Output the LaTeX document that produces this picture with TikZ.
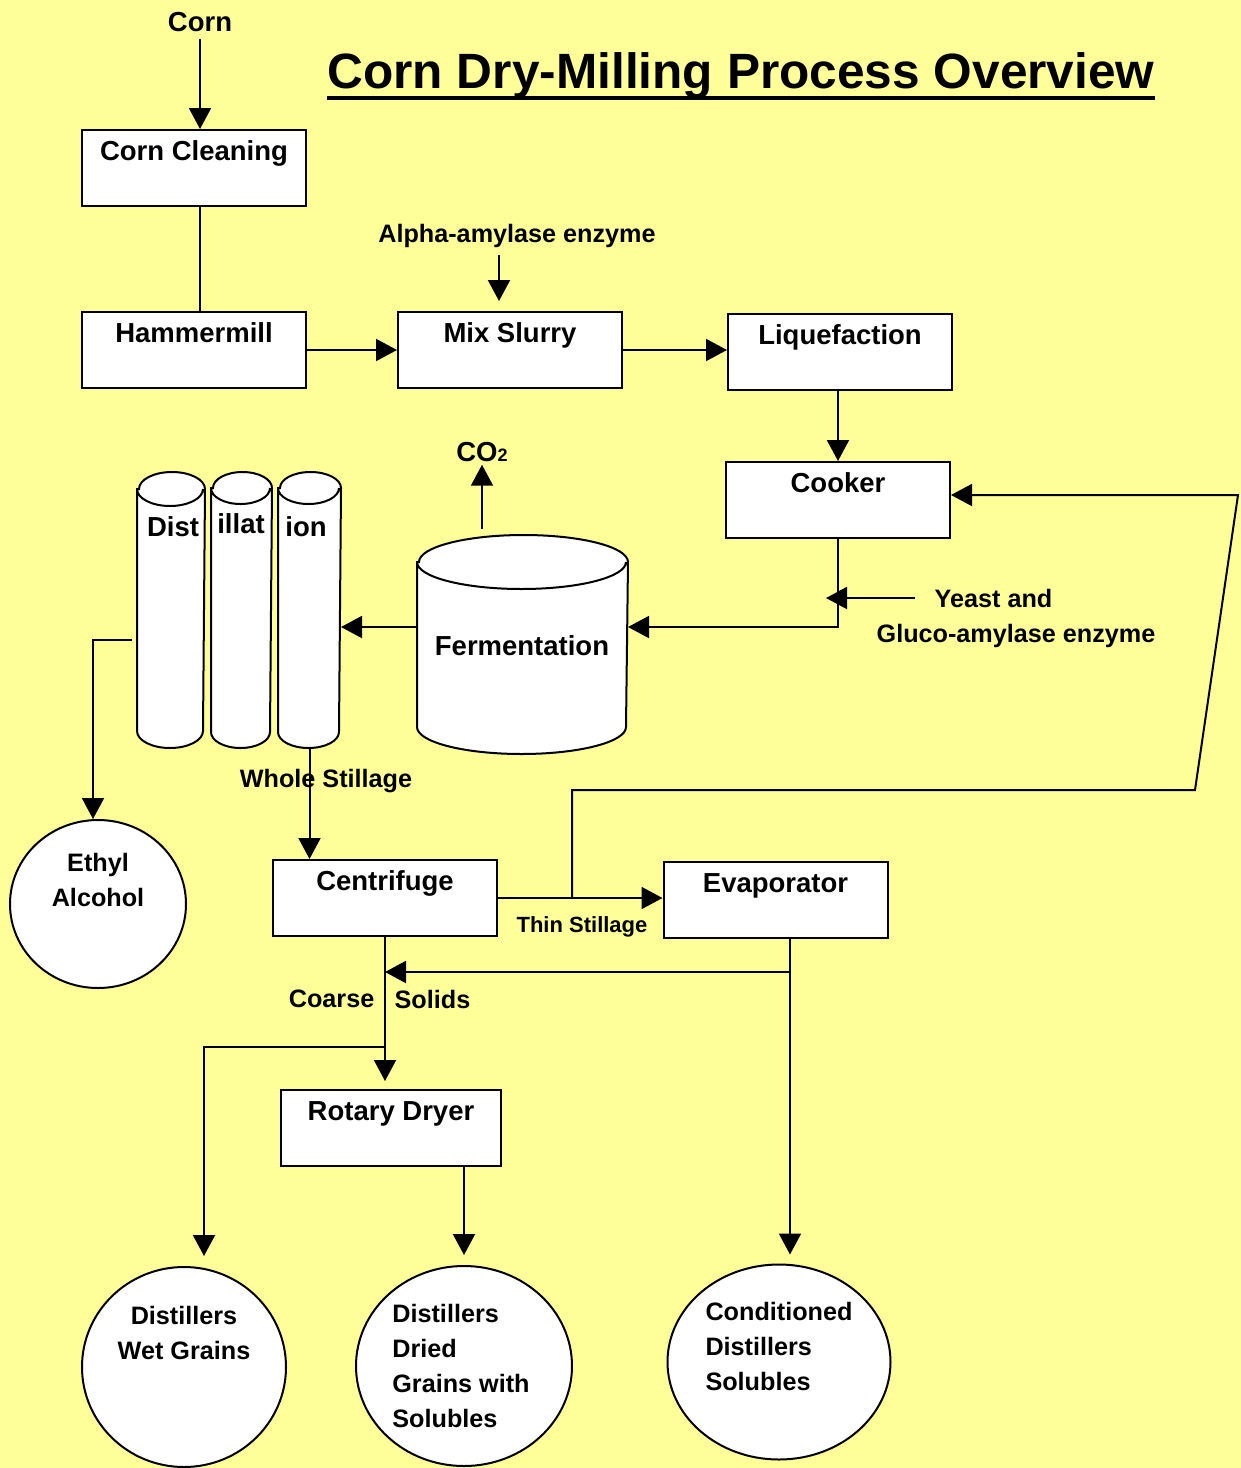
\documentclass[tikz,border=0pt]{standalone}
\usepackage{fontspec}
\setmainfont{Liberation Sans}
\usetikzlibrary{
    arrows.meta,
    shapes.geometric,
    calc,
    positioning
}
\definecolor{paper}{HTML}{FFFF99}

\begin{document}
\begin{tikzpicture}[x=0.5pt, y=-0.5pt, line width=1pt,
    flow/.style={-{Triangle[length=10.5pt, width=11pt]}},
    procbox/.style={draw, fill=white, minimum width=112pt, text height=12pt, text depth=20pt, inner ysep=3pt, font=\fontsize{13.75}{16}\selectfont\bfseries},
    endcirc/.style={ellipse, draw, fill=white, inner sep=0pt},
    tank/.style={rectangle, inner sep=0pt},
    lbl/.style={font=\fontsize{12.6}{17.5}\selectfont\bfseries},
    bigl/.style={font=\fontsize{13.75}{17.5}\selectfont\bfseries}]
    \fill[paper] (0,0) rectangle (1241,1468);
    \useasboundingbox (0,0) rectangle (1241,1468);

    \node[font=\fontsize{24.8}{30}\selectfont\bfseries, inner sep=0pt, anchor=base] (title) at (741,88) {Corn Dry-Milling Process Overview};
    \draw[line width=2.2pt] ([yshift=-5pt]title.base west) -- ([yshift=-5pt]title.base east);

    \node[bigl] (corn) at (200,22) {Corn};
    \node[procbox] (clean) at (194,168) {Corn Cleaning};
    \node[procbox] (hammer) at (194,350) {Hammermill};
    \node[lbl] (alpha) at (517,236) {Alpha-amylase enzyme};
    \node[procbox] (slurry) at (510,350) {Mix Slurry};
    \node[procbox] (liq) at (840,352) {Liquefaction};
    \node[procbox] (cooker) at (838,500) {Cooker};
    \node[lbl, anchor=west] (yeast) at (927,598) {Yeast and};
    \node[lbl, anchor=west] (gluco) at (869,636) {Gluco-amylase enzyme};
    \node[tank, minimum width=104.5pt, minimum height=108.5pt] (ferm) at (522.5,644.5) {};
    \node[tank, minimum width=33pt, minimum height=137pt] (col1) at (171,610) {};
    \node[tank, minimum width=29.5pt, minimum height=137pt] (col2) at (241.5,610) {};
    \node[tank, minimum width=30.5pt, minimum height=137pt] (col3) at (309.5,610) {};
    \foreach \tk/\rx/\ry in {ferm/52.25pt/13.5pt, col1/16.5pt/8.5pt, col2/14.75pt/8pt, col3/15.25pt/8pt}
        \draw[fill=white] ([yshift=-\ry]\tk.north west) -- ([yshift=\ry]\tk.south west)
            arc[start angle=180, end angle=360, x radius=\rx, y radius=\ry]
            -- ([yshift=-\ry]\tk.north east)
            arc[start angle=0, end angle=180, x radius=\rx, y radius=\ry] -- cycle
            ([yshift=-\ry]\tk.north west) arc[start angle=180, end angle=360, x radius=\rx, y radius=\ry];
    \node[bigl] (fermtext) at (522,646) {Fermentation};
    \node[bigl] (col1text) at (173,527) {Dist};
    \node[bigl] (col2text) at (241,524) {illat};
    \node[bigl] (col3text) at (306,527) {ion};
    \node[bigl, inner sep=1pt] (co2) at (482,452) {CO{\fontsize{9}{9}\selectfont 2}};
    \node[endcirc, minimum width=88pt, minimum height=84pt, label={[lbl, align=center, yshift=12pt]center:Ethyl\\Alcohol}] (ethyl) at (98,904) {};
    \node[lbl] (whole) at (326,781) {Whole Stillage};
    \node[procbox] (centri) at (385,898) {Centrifuge};
    \node[procbox] (evap) at (775.5,900) {Evaporator};
    \node[font=\fontsize{11}{13}\selectfont\bfseries] (thin) at (582,927) {Thin Stillage};
    \node[lbl, anchor=east] (coarse) at (382,999) {Coarse};
    \node[lbl, anchor=west] (solids) at (387,999) {Solids};
    \node[procbox, minimum width=110pt] (dryer) at (391,1128) {Rotary Dryer};
    \node[endcirc, minimum width=102pt, minimum height=100pt, label={[lbl, align=center, yshift=17pt]center:Distillers\\Wet Grains}] (dwg) at (184,1367) {};
    \node[endcirc, minimum width=108pt, minimum height=100pt, label={[lbl, align=left, xshift=-1.5pt]center:Distillers\\Dried\\Grains with\\Solubles}] (ddgs) at (464,1366) {};
    \node[endcirc, minimum width=111.5pt, minimum height=97.5pt, label={[lbl, align=left, yshift=8pt]center:Conditioned\\Distillers\\Solubles}] (cds) at (779,1362) {};

    \coordinate (recycle) at (572,898);
    \coordinate (evapout) at ([xshift=7.25pt]evap.south);
    \coordinate (evapsplit) at (790,972);
    \coordinate (wetsplit) at (385,1047);

    \draw ([xshift=3pt]clean.south) -- ([xshift=3pt]hammer.north);
    \draw[flow] (corn.south) -- (corn.south |- clean.north);
    \draw[flow] (hammer) -- (slurry);
    \draw[flow, shorten >=5pt] ([xshift=-9pt]alpha.south) -- ([xshift=-9pt]alpha.south |- slurry.north);
    \draw[flow] (slurry.east) -- (slurry.east -| liq.west);
    \draw[flow] (cooker.north |- liq.south) -- (cooker.north);
    \draw[flow] (cooker.south) |- ([yshift=8.75pt]ferm.east);
    \draw[flow] ([xshift=-6pt]yeast.west) -- ([xshift=-6pt]yeast.west -| cooker.south);
    \draw[flow] ([yshift=3pt]co2.south |- ferm.north) -- (co2.south);
    \draw[flow] ([yshift=8.75pt]ferm.west) -- ([yshift=8.75pt]ferm.west -| col3.east);
    \draw[flow] ([xshift=-2.5pt,yshift=-15pt]col1.west) -| ([xshift=-2.5pt]ethyl.north);
    \draw[flow] (col3.south) -- (col3.south |- centri.north);
    \draw[flow] (centri.east) -- (centri.east -| evap.west);
    \draw[flow] (recycle) |- (1195,790) -- (1238,495) -- ([yshift=2.5pt]cooker.east);
    \draw[flow, shorten >=4pt] (centri.south) -- (centri.south |- dryer.north);
    \draw[flow, shorten >=4.5pt] (evapout) -- (evapout |- cds.north);
    \draw[flow] (evapsplit) -- (evapsplit -| centri.south);
    \draw[flow, shorten >=5pt] (wetsplit) -| ([xshift=10pt]dwg.north);
    \draw[flow, shorten >=5pt] (dryer.south -| ddgs.north) -- (ddgs.north);
\end{tikzpicture}
\end{document}
